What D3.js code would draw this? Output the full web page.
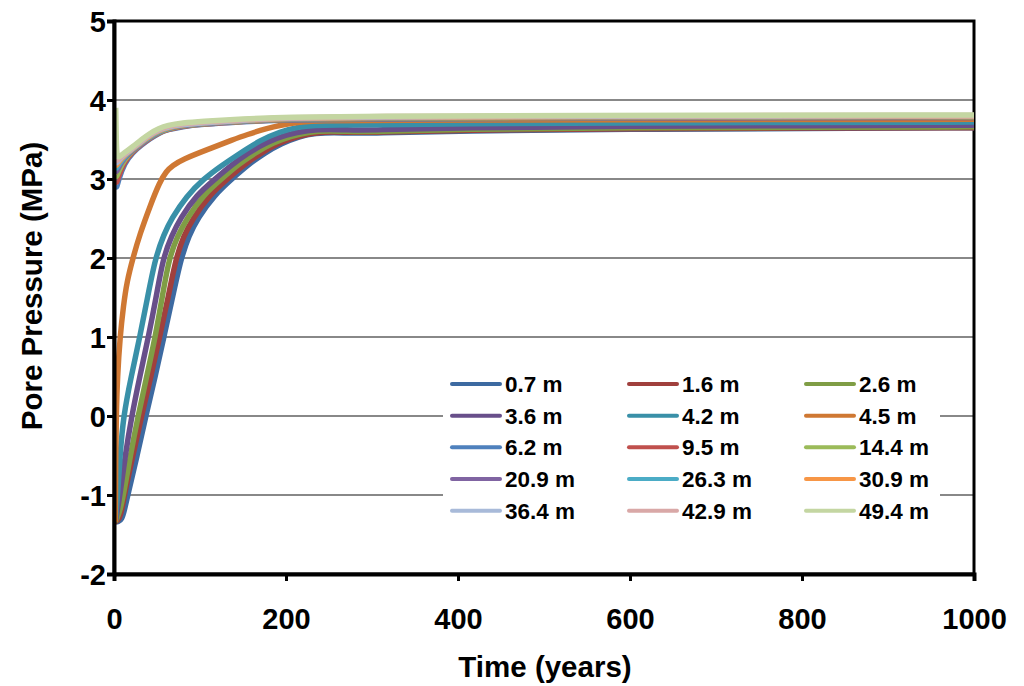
<!DOCTYPE html>
<html>
<head>
<meta charset="utf-8">
<script src="https://cdn.jsdelivr.net/npm/d3@7"></script>
<style>
  body { margin: 0; background: #fff; }
  svg { display: block; font-family: "Liberation Sans", Arial, sans-serif; font-weight: bold; }
</style>
</head>
<body>
<svg id="chart" width="1024" height="686"></svg>
<script>
// Axis ticks
const xTicks = [0, 200, 400, 600, 800, 1000];
const yTicks = [-2, -1, 0, 1, 2, 3, 4, 5];

// Depth of each monitoring point (legend labels)
const depthLabels = ["0.7 m", "1.6 m", "2.6 m", "3.6 m", "4.2 m", "4.5 m",
                     "6.2 m", "9.5 m", "14.4 m", "20.9 m", "26.3 m", "30.9 m",
                     "36.4 m", "42.9 m", "49.4 m"];

// Pore pressure histories: [time (years), pore pressure (MPa)]
const d0_7 = [[1.5,-1.34],[5,-1.34],[9,-1.31],[12,-1.2],[16,-1.0],[27,-0.5],[37,0],[48,0.5],[58,1.0],[68,1.5],[78,2.0],[87,2.28],[97,2.5],[117,2.8],[137,3.0],[156,3.18],[175,3.33],[195,3.45],[215,3.54],[235,3.58],[255,3.59],[280,3.58],[300,3.58],[400,3.61],[600,3.63],[800,3.64],[1000,3.65]];
const d1_6 = [[1.5,-1.34],[4,-1.33],[8,-1.26],[12,-1.0],[22,-0.5],[32,0],[43,0.5],[53,1.0],[63,1.5],[72,2.0],[81,2.28],[91.6,2.5],[111,2.8],[132,3.0],[151,3.18],[171,3.33],[190,3.45],[210,3.53],[230,3.58],[250,3.6],[280,3.59],[300,3.59],[400,3.62],[600,3.64],[800,3.645],[1000,3.65]];
const d2_6 = [[1.5,-1.34],[3,-1.31],[7,-1.2],[11,-1.0],[19,-0.5],[28,0],[38,0.5],[48,1.0],[56,1.5],[64,2.0],[74,2.28],[84.6,2.5],[104,2.8],[125,3.0],[144,3.18],[164,3.33],[185,3.46],[205,3.54],[228,3.6],[250,3.61],[280,3.6],[300,3.6],[400,3.63],[600,3.65],[800,3.655],[1000,3.66]];
const d3_6 = [[1.5,-1.34],[3,-1.25],[7,-1.0],[13,-0.5],[20.6,0],[30,0.5],[40,1.0],[49,1.5],[57,2.0],[67,2.28],[77,2.5],[96,2.8],[117.6,3.0],[137,3.18],[156,3.33],[178,3.47],[200,3.56],[225,3.62],[250,3.63],[280,3.62],[300,3.62],[400,3.65],[600,3.67],[800,3.675],[1000,3.68]];
const d4_2 = [[1.5,-1.34],[2.5,-1.2],[4.2,-1.0],[7,-0.5],[10.9,0],[20,0.5],[30,1.0],[39,1.5],[48,2.0],[58,2.3],[67,2.5],[84,2.78],[104,3.0],[125,3.17],[147,3.33],[170,3.49],[193,3.6],[215,3.66],[232,3.68],[260,3.685],[300,3.685],[400,3.7],[600,3.71],[800,3.715],[1000,3.72]];
const d4_5 = [[1.5,-1.34],[2,-0.5],[2.6,0],[4,0.5],[7,1.0],[11,1.4],[15,1.7],[22,2.0],[30,2.3],[42,2.66],[53,2.96],[61,3.1],[68,3.17],[80,3.25],[108,3.37],[139,3.5],[154,3.56],[178,3.64],[193,3.68],[216,3.72],[240,3.74],[300,3.745],[600,3.75],[1000,3.755]];
const d6_2 = [[2,2.92],[3,2.88],[5,2.98],[12,3.2],[22,3.34],[32,3.43],[42,3.51],[52,3.58],[62,3.625],[80,3.665],[100,3.69],[150,3.725],[200,3.75],[300,3.76],[500,3.77],[1000,3.78]];
const d9_5 = [[2,2.98],[3,2.94],[5,3.03],[12,3.22],[22,3.35],[32,3.44],[42,3.52],[52,3.585],[62,3.63],[80,3.67],[100,3.695],[150,3.73],[200,3.755],[300,3.765],[500,3.775],[1000,3.78]];
const d14_4 = [[2,3.05],[3,3.02],[5,3.09],[12,3.25],[22,3.36],[32,3.45],[42,3.53],[52,3.59],[62,3.635],[80,3.675],[100,3.7],[150,3.73],[200,3.76],[300,3.77],[500,3.78],[1000,3.785]];
const d20_9 = [[2,3.11],[3,3.09],[5,3.14],[12,3.27],[22,3.37],[32,3.45],[42,3.53],[52,3.6],[62,3.64],[80,3.68],[100,3.7],[150,3.735],[200,3.76],[300,3.775],[500,3.785],[1000,3.79]];
const d26_3 = [[2,3.15],[3,3.13],[5,3.18],[12,3.28],[22,3.38],[32,3.46],[42,3.54],[52,3.6],[62,3.645],[80,3.685],[100,3.705],[150,3.74],[200,3.765],[300,3.78],[500,3.79],[1000,3.795]];
const d30_9 = [[2,3.18],[3,3.17],[5,3.21],[12,3.3],[22,3.38],[32,3.47],[42,3.55],[52,3.61],[62,3.65],[80,3.69],[100,3.71],[150,3.74],[200,3.77],[300,3.78],[500,3.79],[1000,3.795]];
const d36_4 = [[2,3.21],[3,3.2],[5,3.23],[12,3.31],[22,3.39],[32,3.48],[42,3.56],[52,3.62],[62,3.66],[80,3.69],[100,3.71],[150,3.745],[200,3.775],[300,3.785],[500,3.795],[1000,3.8]];
const d42_9 = [[2,3.24],[3,3.23],[5,3.25],[12,3.32],[22,3.4],[32,3.49],[42,3.57],[52,3.63],[62,3.67],[80,3.7],[100,3.72],[150,3.75],[200,3.78],[300,3.79],[500,3.8],[1000,3.805]];
const d49_4 = [[2,3.9],[2.5,3.6],[3,3.27],[6,3.28],[12,3.33],[22,3.41],[32,3.5],[42,3.58],[52,3.64],[62,3.68],[80,3.71],[100,3.73],[150,3.76],[200,3.785],[300,3.795],[500,3.805],[1000,3.81]];

const seriesValues = [d0_7, d1_6, d2_6, d3_6, d4_2, d4_5, d6_2, d9_5, d14_4,
                      d20_9, d26_3, d30_9, d36_4, d42_9, d49_4];

// Line colours, one per depth
const seriesColors = ["#3D6AA1", "#A0403D", "#7F9D45", "#684F8A", "#3990A8", "#CF7833",
                      "#4F81BD", "#C0504D", "#9BBB59", "#8064A2", "#4BACC6", "#F79646",
                      "#A8BAD9", "#D9A8A7", "#C4D6A2"];

const svg = d3.select("#chart");
const plotLeft = 114, plotRight = 974, plotTop = 21, plotBottom = 574;
const tickFont = "29px", titleFont = "29.5px", legendFont = "22.5px";

const x = d3.scaleLinear().domain([0, 1000]).range([plotLeft, plotRight]);
const y = d3.scaleLinear().domain([-2, 5]).range([plotBottom, plotTop]);

// Horizontal gridlines
svg.append("g")
  .selectAll("line")
  .data(yTicks.filter(v => v > -2 && v < 5))
  .join("line")
  .attr("x1", plotLeft).attr("x2", plotRight)
  .attr("y1", d => y(d)).attr("y2", d => y(d))
  .attr("stroke", "#888").attr("stroke-width", 1.8);

// Plot area frame
svg.append("rect")
  .attr("x", plotLeft).attr("y", plotTop)
  .attr("width", plotRight - plotLeft).attr("height", plotBottom - plotTop)
  .attr("fill", "none").attr("stroke", "#000").attr("stroke-width", 3);

// Legend background sits behind the curves
svg.append("rect")
  .attr("x", 443).attr("y", 368).attr("width", 497).attr("height", 159)
  .attr("fill", "#fff");

// Curves
const line = d3.line()
  .x(d => x(d[0]))
  .y(d => y(d[1]))
  .curve(d3.curveBasis);

svg.append("g")
  .selectAll("path")
  .data(seriesValues)
  .join("path")
  .attr("d", line)
  .attr("fill", "none")
  .attr("stroke", (d, i) => seriesColors[i])
  .attr("stroke-width", 5.5)
  .attr("stroke-linejoin", "round")
  .attr("stroke-linecap", "butt");

// Axes
const xAxis = d3.axisBottom(x).tickValues(xTicks).tickSize(7).tickPadding(27).tickFormat(d => String(d));
const yAxis = d3.axisLeft(y).tickValues(yTicks).tickSize(7).tickPadding(1).tickFormat(d => String(d));

const gx = svg.append("g").attr("transform", `translate(0,${plotBottom})`).call(xAxis);
const gy = svg.append("g").attr("transform", `translate(${plotLeft},0)`).call(yAxis);

[gx, gy].forEach(g => {
  g.select(".domain").attr("stroke", "#000").attr("stroke-width", 4);
  g.selectAll(".tick line").attr("stroke", "#000").attr("stroke-width", 3);
  g.selectAll(".tick text")
    .attr("fill", "#000")
    .style("font-size", tickFont)
    .style("font-weight", "bold")
    .style("font-family", "'Liberation Sans', Arial, sans-serif");
});
gy.selectAll(".tick text").attr("dy", "0.36em");

// Axis titles
svg.append("text")
  .attr("x", 545).attr("y", 677)
  .attr("text-anchor", "middle")
  .style("font-size", titleFont)
  .text("Time (years)");

svg.append("text")
  .attr("transform", `translate(42,286) rotate(-90)`)
  .attr("text-anchor", "middle")
  .style("font-size", titleFont)
  .text("Pore Pressure (MPa)");

// Legend: 3 columns x 5 rows
const colX = [452, 629, 806];
const rowY = [384, 415.7, 447.3, 479, 510.7];
const legend = svg.append("g")
  .selectAll("g")
  .data(depthLabels)
  .join("g")
  .attr("transform", (d, i) => `translate(${colX[i % 3]},${rowY[Math.floor(i / 3)]})`);

legend.append("line")
  .attr("x1", 0).attr("x2", 48)
  .attr("stroke", (d, i) => seriesColors[i])
  .attr("stroke-width", 4)
  .attr("stroke-linecap", "round");

legend.append("text")
  .attr("x", 53).attr("dy", "0.36em")
  .style("font-size", legendFont)
  .text(d => d);
</script>
</body>
</html>
